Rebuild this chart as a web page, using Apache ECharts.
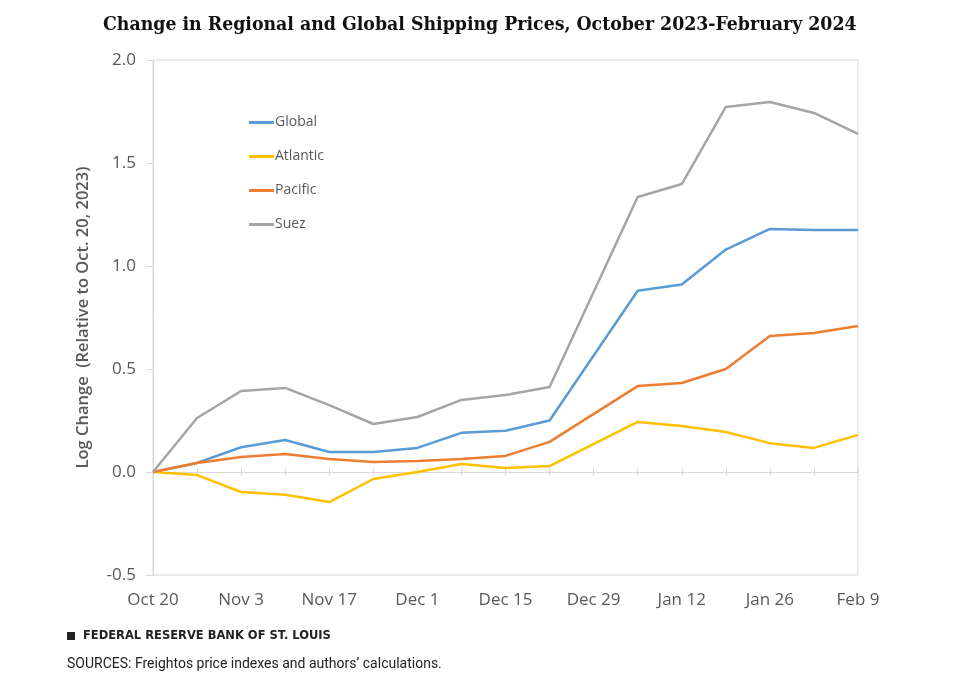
<!DOCTYPE html>
<html><head><meta charset="utf-8">
<script src="https://cdn.jsdelivr.net/npm/echarts@6/dist/echarts.min.js"></script>
<style>html,body{margin:0;padding:0;background:#fff}#c{width:973px;height:691px}</style>
</head><body><div id="c"></div>
<script>
const categories = ['Oct 20','Oct 27','Nov 3','Nov 10','Nov 17','Nov 24','Dec 1','Dec 8','Dec 15','Dec 22','Dec 29','Jan 5','Jan 12','Jan 19','Jan 26','Feb 2','Feb 9'];
const globalVals   = [0, 0.044, 0.12, 0.155, 0.097, 0.097, 0.117, 0.19, 0.20, 0.25, null, 0.88, 0.91, 1.08, 1.18, 1.175, 1.175];
const atlanticVals = [0, -0.015, -0.097, -0.11, -0.146, -0.034, 0.0, 0.039, 0.019, 0.029, null, 0.243, 0.223, 0.194, 0.14, 0.117, 0.18];
const pacificVals  = [0, 0.044, 0.073, 0.087, 0.063, 0.049, 0.053, 0.063, 0.078, 0.146, null, 0.417, 0.432, 0.50, 0.66, 0.675, 0.709];
const suezVals     = [0, 0.262, 0.393, 0.408, 0.325, 0.233, 0.267, 0.35, 0.374, 0.413, null, 1.335, 1.398, 1.772, 1.796, 1.743, 1.641];
const seriesNames = ['Global','Atlantic','Pacific','Suez'];
const seriesColors = ['#5B9BD5','#FFC000','#ED7D31','#A5A5A5'];
const seriesData = [globalVals, atlanticVals, pacificVals, suezVals];

const chart = echarts.init(document.getElementById('c'), null, {renderer:'canvas'});
const yFont = "'Open Sans',sans-serif";
chart.setOption({
  animation:false,
  backgroundColor:'#fff',
  title:{text:'Change in Regional and Global Shipping Prices, October 2023-February 2024',
    left:98, top:10,
    textStyle:{fontFamily:"'DejaVu Serif Condensed','DejaVu Serif',serif", fontWeight:'bold', fontSize:19.3, color:'#111'}},
  grid:{left:153, right:115, top:60, bottom:116, show:true, borderColor:'#d9d9d9', borderWidth:1,
    containLabel:false, outerBoundsMode:'none'},
  legend:{orient:'vertical', left:244, top:108, itemGap:15, itemWidth:25, itemHeight:3,
    data:seriesNames.map(n=>({name:n, icon:'rect'})),
    textStyle:{fontFamily:yFont, fontSize:14, color:'#595959', padding:[0,0,0,-4], lineHeight:19}},
  xAxis:[
   {type:'category', data:categories, boundaryGap:false, position:'bottom',
    axisLine:{show:false, onZero:false},
    axisTick:{show:false},
    axisLabel:{show:true, interval:1, margin:17, fontFamily:yFont, fontSize:17, color:'#595959'},
    splitLine:{show:false}},
   {type:'category', data:categories, boundaryGap:false, position:'top',
    axisLine:{show:true, onZero:true, onZeroAxisIndex:0, lineStyle:{color:'#d9d9d9', width:1}},
    axisTick:{show:true, interval:0, length:4, lineStyle:{color:'#d9d9d9'}},
    axisLabel:{show:false}, splitLine:{show:false}},
   {type:'category', data:categories, boundaryGap:false, position:'bottom',
    axisLine:{show:false, onZero:true, onZeroAxisIndex:1},
    axisTick:{show:true, interval:0, length:4, lineStyle:{color:'#d9d9d9'}},
    axisLabel:{show:false}, splitLine:{show:false}}],
  yAxis:[{type:'value', min:-0.5, max:2.0, interval:0.5,
    name:'Log Change  (Relative to Oct. 20, 2023)', nameLocation:'middle', nameGap:61, nameRotate:90,
    nameTextStyle:{fontFamily:yFont, fontWeight:600, fontSize:16.5, color:'#595959'},
    axisLine:{show:true, onZero:false, lineStyle:{color:'#d9d9d9'}},
    axisTick:{show:true, length:7, lineStyle:{color:'#d9d9d9'}},
    axisLabel:{formatter:v=>v.toFixed(1), margin:17, fontFamily:yFont, fontSize:17, color:'#595959'},
    splitLine:{show:false}},
   {type:'value', min:-0.5, max:2.0, interval:0.5, position:'right',
    axisLine:{show:false, onZero:false}, axisTick:{show:false}, axisLabel:{show:false}, splitLine:{show:false}}],
  series: seriesNames.map((n,i)=>({name:n, type:'line', data:seriesData[i], xAxisIndex:0, yAxisIndex:0,
    symbol:'none', connectNulls:true, color:seriesColors[i],
    lineStyle:{width:2.5, color:seriesColors[i]}})),
  graphic:[
    {type:'rect', left:67, top:632, shape:{width:8, height:8}, style:{fill:'#222'}},
    {type:'text', left:83, top:630, style:{text:'FEDERAL RESERVE BANK OF ST. LOUIS', fontFamily:"'DejaVu Sans',sans-serif", fontWeight:'bold', fontSize:11.5, fill:'#222'}},
    {type:'text', left:67, top:657, style:{text:'SOURCES: Freightos price indexes and authors\u2019 calculations.', fontFamily:"Roboto,sans-serif", fontSize:14, fill:'#222'}}
  ]
});
</script></body></html>
